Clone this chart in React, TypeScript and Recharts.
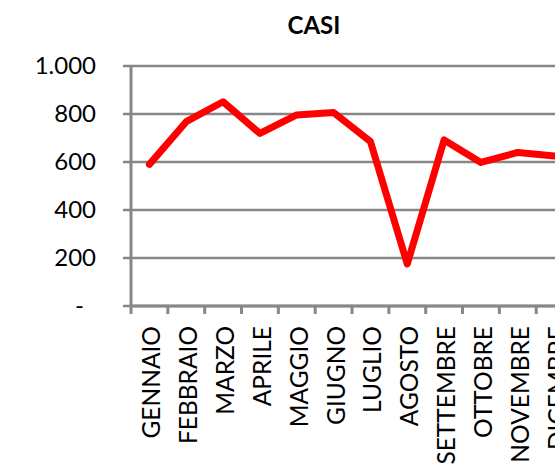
import React from "react";
import { LineChart, Line, XAxis, YAxis, CartesianGrid } from "recharts";

const months = [
  "GENNAIO",
  "FEBBRAIO",
  "MARZO",
  "APRILE",
  "MAGGIO",
  "GIUGNO",
  "LUGLIO",
  "AGOSTO",
  "SETTEMBRE",
  "OTTOBRE",
  "NOVEMBRE",
  "DICEMBRE",
];
const casi = [590, 768, 851, 719, 796, 806, 685, 175, 692, 598, 640, 625];
const yTicks = [0, 200, 400, 600, 800, 1000];

const data = months.map((mese, i) => ({ mese, casi: casi[i] }));

const GRID = "#878787";
const FONT = "Lato, 'Open Sans', sans-serif";
const HALF_BAND = 18.4;

const formatIt = (v: number) =>
  v >= 1000 ? `${Math.floor(v / 1000)}.${String(v % 1000).padStart(3, "0")}` : String(v);

const XTick = (props: any) => {
  const { x, y, payload } = props;
  const ty = y + 20;
  return (
    <g>
      <line x1={x - HALF_BAND} x2={x - HALF_BAND} y1={y} y2={y + 8} stroke={GRID} strokeWidth={3} />
      <text
        x={x}
        y={ty}
        dy="0.45em"
        transform={`rotate(-90 ${x} ${ty})`}
        textAnchor="end"
        fontFamily={FONT}
        fontSize={24.5}
        fill="#000"
      >
        {payload.value}
      </text>
    </g>
  );
};

const YTick = (props: any) => {
  const { x, y, payload } = props;
  const zero = payload.value === 0;
  return (
    <text
      x={zero ? x - 12 : x}
      y={y}
      dy="0.35em"
      textAnchor="end"
      fontFamily={FONT}
      fontSize={24}
      fill="#000"
    >
      {zero ? "-" : formatIt(payload.value)}
    </text>
  );
};

export default function App() {
  return (
    <div
      style={{
        position: "fixed",
        left: 0,
        top: 0,
        width: 555,
        height: 464,
        overflow: "hidden",
        background: "#fff",
      }}
    >
      <div
        style={{
          position: "absolute",
          left: 214,
          top: 10,
          width: 200,
          textAlign: "center",
          fontFamily: FONT,
          fontWeight: 700,
          fontSize: 24,
          color: "#000",
        }}
      >
        CASI
      </div>
      <div style={{ position: "absolute", left: 8, top: 8 }}>
        <LineChart
          width={600}
          height={470}
          data={data}
          margin={{ top: 58, right: 35, left: 0, bottom: 0 }}
        >
          <CartesianGrid vertical={false} stroke={GRID} strokeWidth={2.5} />
          <XAxis
            dataKey="mese"
            interval={0}
            padding={{ left: HALF_BAND, right: HALF_BAND }}
            height={172}
            tickLine={false}
            tickSize={0}
            tickMargin={0}
            axisLine={{ stroke: GRID, strokeWidth: 3 }}
            tick={<XTick />}
          />
          <YAxis
            width={123}
            domain={[0, 1000]}
            ticks={yTicks}
            interval={0}
            tickSize={8}
            tickMargin={27}
            tickLine={{ stroke: GRID, strokeWidth: 2.5 }}
            axisLine={{ stroke: GRID, strokeWidth: 3 }}
            tick={<YTick />}
          />
          <Line
            type="linear"
            dataKey="casi"
            stroke="#ff0000"
            strokeWidth={7}
            strokeLinejoin="round"
            strokeLinecap="round"
            dot={false}
            isAnimationActive={false}
          />
        </LineChart>
      </div>
    </div>
  );
}
